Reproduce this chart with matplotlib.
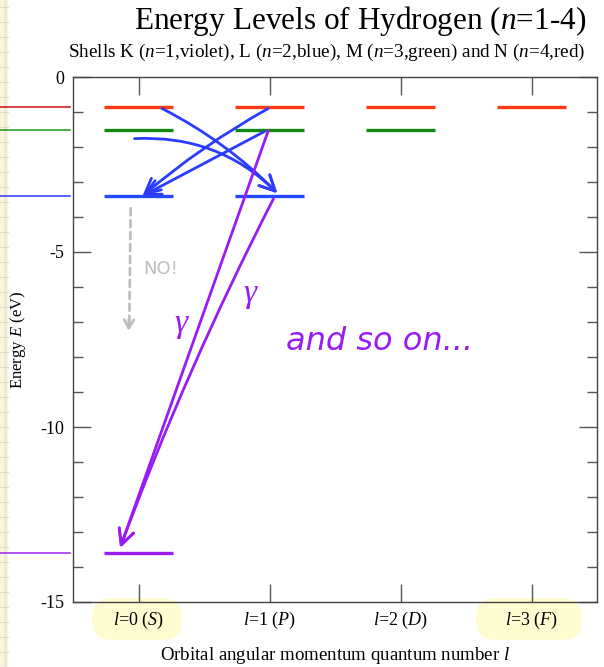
import numpy as np
import matplotlib
matplotlib.use('Agg')
import matplotlib.pyplot as plt
from matplotlib.patches import Rectangle, FancyBboxPatch
from matplotlib.transforms import IdentityTransform

plt.rcParams['font.family'] = ['Liberation Serif', 'DejaVu Serif']
plt.rcParams['mathtext.fontset'] = 'custom'
plt.rcParams['mathtext.rm'] = 'Liberation Serif'
plt.rcParams['mathtext.it'] = 'Liberation Serif:italic'
plt.rcParams['axes.unicode_minus'] = False

# energy of each shell (eV), n = 1..4
shell_n = [1, 2, 3, 4]
shell_energy = [-13.6, -3.4, -1.51, -0.85]
shell_color = ['#9a1ff0', '#2448ff', '#128a12', '#ff3a12']
shell_edge_color = ['#a020f0', '#2a3aff', '#1a9a1a', '#cc1010']
orbital_l = [0, 1, 2, 3]
orbital_labels = ['$l$=0 ($S$)', '$l$=1 ($P$)', '$l$=2 ($D$)', '$l$=3 ($F$)']

# hand-drawn transitions: (l_from, n_from, dx_from, dy_from, l_to, n_to, dx_to, dy_to, rad)
blue_moves = [
    (0, 4, 0.18, -0.05, 1, 2, 0.06, 0.08, -0.08),
    (0, 3, -0.03, -0.25, 1, 2, 0.06, 0.08, -0.22),
    (1, 4, -0.01, -0.05, 0, 2, 0.03, 0.0, 0.05),
    (1, 3, -0.04, -0.05, 0, 2, 0.03, 0.0, 0.0),
]
violet_moves = [
    (1, 3, -0.01, -0.03, 0, 1, -0.14, 0.15, 0.0),
    (1, 2, 0.03, -0.08, 0, 1, -0.14, 0.15, 0.03),
]
half_w = 0.265

fig = plt.figure(figsize=(6.04, 6.67), dpi=100)
fig.patch.set_facecolor('white')

# graph paper peeking out at left edge
fig.patches.append(Rectangle((0, 0), 8, 667, transform=IdentityTransform(),
                             facecolor='#faf6e2', edgecolor='none', zorder=-5))
fig.patches.append(Rectangle((4, 0), 3, 667, transform=IdentityTransform(),
                             facecolor='#efe9cf', edgecolor='none', zorder=-5))
for yy in np.arange(0, 667, 15):
    fig.add_artist(plt.Line2D([0, 8], [yy, yy], transform=IdentityTransform(),
                              color='#e2dcc4', lw=0.8, zorder=-4))

# yellow highlighter blobs behind l=0 and l=3 labels
for (x0, x1) in [(92, 182), (476, 582)]:
    fig.patches.append(FancyBboxPatch((x0, 667 - 640), x1 - x0, 42,
                                      boxstyle='round,pad=0,rounding_size=20',
                                      transform=IdentityTransform(), facecolor='#fdfbd0',
                                      edgecolor='none', zorder=-3))

ax = fig.add_axes([73/604, 1 - 602/667, 524/604, 525/667])
ax.set_facecolor('none')
ax.set_xlim(-0.5, 3.5)
ax.set_ylim(-15, 0)

for n, E, c, ce in zip(shell_n, shell_energy, shell_color, shell_edge_color):
    for l in orbital_l:
        if l < n:
            ax.plot([l - half_w, l + half_w], [E, E], color=c, lw=2.4, solid_capstyle='butt')
    ax.plot([-1.06, -0.52], [E, E], color=ce, lw=1.1, clip_on=False)

def pos(l, n, dx, dy):
    return (l + dx, shell_energy[shell_n.index(n)] + dy)

for moves, col in [(blue_moves, '#2b3bff'), (violet_moves, '#9a1cf5')]:
    for lf, nf, dxf, dyf, lt, nt, dxt, dyt, rad in moves:
        ax.annotate('', xy=pos(lt, nt, dxt, dyt), xytext=pos(lf, nf, dxf, dyf),
                    arrowprops=dict(arrowstyle='->,head_length=1.1,head_width=0.55',
                                    color=col, lw=2.0, shrinkA=0, shrinkB=0,
                                    connectionstyle='arc3,rad=%g' % rad))

# the forbidden 2s -> 1s step
ax.annotate('', xy=(-0.07, -7.0), xytext=(-0.06, -3.75),
            arrowprops=dict(arrowstyle='-', color='#bdbdbd', lw=2.0, linestyle=(0, (2.5, 1.8)),
                            shrinkA=0, shrinkB=0))
ax.annotate('', xy=(-0.075, -7.25), xytext=(-0.072, -6.9),
            arrowprops=dict(arrowstyle='->,head_length=0.6,head_width=0.35', color='#bdbdbd',
                            lw=2.0, shrinkA=0, shrinkB=0))
ax.text(0.17, -5.5, 'NO!', color='#bdbdbd', fontsize=13, family='DejaVu Sans',
        ha='center', va='center')

ax.text(0.33, -7.1, r'$\gamma$', color='#9a1cf5', fontsize=24, ha='center', va='center')
ax.text(0.86, -6.25, r'$\gamma$', color='#9a1cf5', fontsize=24, ha='center', va='center')
ax.text(1.84, -7.55, 'and so on...', color='#9a1cf5', fontsize=23, family='DejaVu Sans',
        style='italic', ha='center', va='center')

ax.set_xticks(orbital_l)
ax.set_xticklabels(orbital_labels, fontsize=13)
ax.set_yticks([0, -5, -10, -15])
ax.set_yticklabels(['0', '-5', '-10', '-15'], fontsize=13)
ax.set_yticks(np.arange(-14, 0, 1), minor=True)
ax.tick_params(which='both', direction='in', top=True, right=True, color='#555555', width=1)
ax.tick_params(which='major', length=13, pad=6)
ax.tick_params(which='minor', length=7)
for s in ax.spines.values():
    s.set_color('#444444')
    s.set_linewidth(1)

ax.set_xlabel('Orbital angular momentum quantum number $l$', fontsize=13.6, labelpad=10)
ax.set_ylabel('Energy $E$ (eV)', fontsize=12)
ax.yaxis.set_label_coords(-0.085, 0.5)

fig.text(360/604, 1 - 21/667, 'Energy Levels of Hydrogen ($n$=1-4)', fontsize=22.5,
         ha='center', va='center')
fig.text(327/604, 1 - 52/667,
         'Shells K ($n$=1,violet), L ($n$=2,blue), M ($n$=3,green) and N ($n$=4,red)',
         fontsize=13.8, ha='center', va='center')

fig.savefig('out.png', dpi=100)
